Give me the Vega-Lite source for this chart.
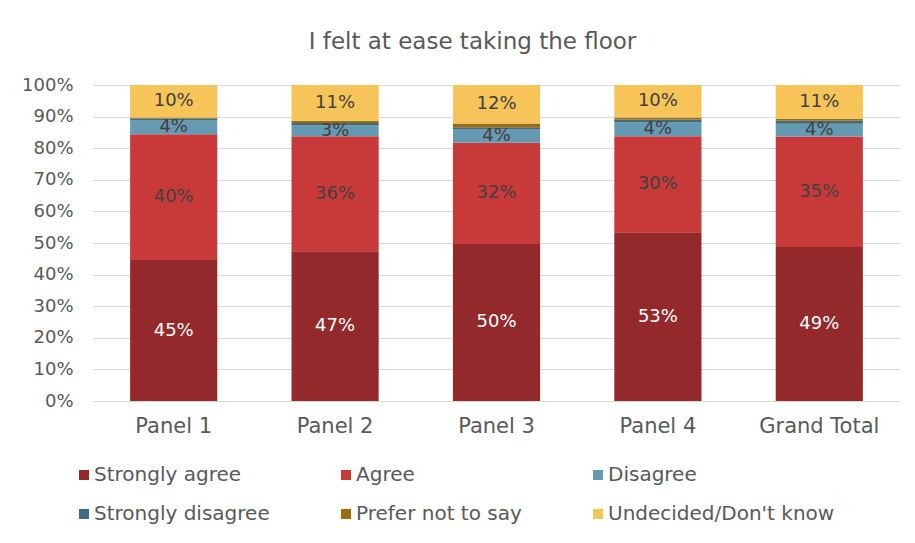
{
  "$schema": "https://vega.github.io/schema/vega-lite/v6.json",
  "width": 807,
  "height": 316,
  "autosize": "none",
  "padding": {"left": 93, "top": 85, "right": 15, "bottom": 142},
  "background": "white",
  "title": {"text": "I felt at ease taking the floor", "fontSize": 23, "font": "DejaVu Sans", "fontWeight": "normal", "color": "#595959", "anchor": "middle", "dx": -24, "offset": 22},
  "data": {"values": [
    {"panel": "Panel 1", "r": "Strongly agree", "v": 44.6},
    {"panel": "Panel 1", "r": "Agree", "v": 39.8},
    {"panel": "Panel 1", "r": "Disagree", "v": 4.4},
    {"panel": "Panel 1", "r": "Strongly disagree", "v": 0.6},
    {"panel": "Panel 1", "r": "Prefer not to say", "v": 0.3},
    {"panel": "Panel 1", "r": "Undecided/Don't know", "v": 10.3},
    {"panel": "Panel 2", "r": "Strongly agree", "v": 47.4},
    {"panel": "Panel 2", "r": "Agree", "v": 36.4},
    {"panel": "Panel 2", "r": "Disagree", "v": 3.4},
    {"panel": "Panel 2", "r": "Strongly disagree", "v": 0.8},
    {"panel": "Panel 2", "r": "Prefer not to say", "v": 0.7},
    {"panel": "Panel 2", "r": "Undecided/Don't know", "v": 11.3},
    {"panel": "Panel 3", "r": "Strongly agree", "v": 49.7},
    {"panel": "Panel 3", "r": "Agree", "v": 32.0},
    {"panel": "Panel 3", "r": "Disagree", "v": 4.2},
    {"panel": "Panel 3", "r": "Strongly disagree", "v": 0.7},
    {"panel": "Panel 3", "r": "Prefer not to say", "v": 1.2},
    {"panel": "Panel 3", "r": "Undecided/Don't know", "v": 12.2},
    {"panel": "Panel 4", "r": "Strongly agree", "v": 53.4},
    {"panel": "Panel 4", "r": "Agree", "v": 30.4},
    {"panel": "Panel 4", "r": "Disagree", "v": 4.3},
    {"panel": "Panel 4", "r": "Strongly disagree", "v": 1.0},
    {"panel": "Panel 4", "r": "Prefer not to say", "v": 0.6},
    {"panel": "Panel 4", "r": "Undecided/Don't know", "v": 10.3},
    {"panel": "Grand Total", "r": "Strongly agree", "v": 48.7},
    {"panel": "Grand Total", "r": "Agree", "v": 35.0},
    {"panel": "Grand Total", "r": "Disagree", "v": 4.0},
    {"panel": "Grand Total", "r": "Strongly disagree", "v": 1.0},
    {"panel": "Grand Total", "r": "Prefer not to say", "v": 0.6},
    {"panel": "Grand Total", "r": "Undecided/Don't know", "v": 10.7}
  ]},
  "transform": [
    {"calculate": "indexof(['Strongly agree','Agree','Disagree','Strongly disagree','Prefer not to say','Undecided/Don\\'t know'], datum.r)", "as": "o"},
    {"stack": "v", "groupby": ["panel"], "sort": [{"field": "o", "order": "ascending"}], "as": ["v0", "v1"]},
    {"calculate": "(datum.v0 + datum.v1) / 2", "as": "mid"},
    {"calculate": "round(datum.v) + '%'", "as": "lbl"}
  ],
  "encoding": {
    "x": {"field": "panel", "type": "nominal", "sort": ["Panel 1", "Panel 2", "Panel 3", "Panel 4", "Grand Total"],
      "scale": {"paddingInner": 0.46, "paddingOuter": 0.23},
      "axis": {"title": null, "labelAngle": 0, "labelFontSize": 21, "labelFont": "DejaVu Sans", "labelColor": "#595959", "ticks": false, "domainColor": "#d9d9d9", "labelPadding": 14}}
  },
  "layer": [
    {
      "mark": {"type": "bar"},
      "encoding": {
        "y": {"field": "v0", "type": "quantitative", "scale": {"domain": [0, 100], "nice": false},
          "axis": {"title": null, "values": [0,10,20,30,40,50,60,70,80,90,100], "labelOverlap": false, "labelExpr": "datum.value + '%'", "labelFontSize": 18, "labelFont": "DejaVu Sans", "labelColor": "#595959", "ticks": false, "domain": false, "gridColor": "#d9d9d9", "labelPadding": 20}},
        "y2": {"field": "v1"},
        "color": {"field": "r", "type": "nominal",
          "scale": {"domain": ["Strongly agree", "Agree", "Disagree", "Strongly disagree", "Prefer not to say", "Undecided/Don't know"],
                    "range": ["#94292b", "#c83a3a", "#6699b2", "#3d6b80", "#9c6b0a", "#f6c458"]},
          "legend": {"title": null, "orient": "none", "legendX": -19, "legendY": 380, "columns": 3, "direction": "horizontal", "symbolType": "square", "symbolSize": 100, "symbolStrokeWidth": 0, "labelFontSize": 20, "labelFont": "DejaVu Sans", "labelColor": "#595959", "columnPadding": 66, "rowPadding": 19, "labelOffset": 0, "labelLimit": 400}}
      }
    },
    {
      "transform": [{"filter": "datum.v >= 2.5"}],
      "mark": {"type": "text", "fontSize": 18, "font": "DejaVu Sans"},
      "encoding": {
        "y": {"field": "mid", "type": "quantitative", "axis": null},
        "text": {"field": "lbl"},
        "color": {"condition": {"test": "datum.r === 'Strongly agree'", "value": "white"}, "value": "#404040"}
      }
    }
  ],
  "resolve": {"axis": {"y": "independent"}},
  "config": {"view": {"stroke": null}}
}
